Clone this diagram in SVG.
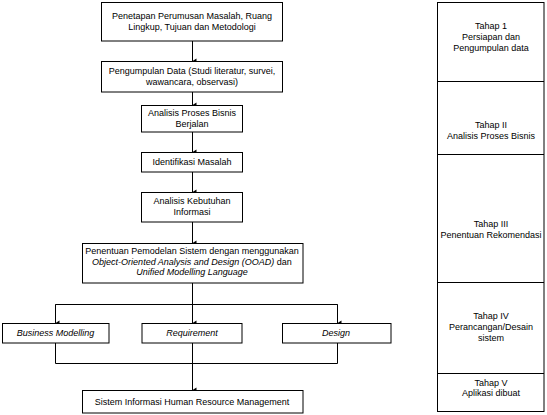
<svg xmlns="http://www.w3.org/2000/svg" width="547" height="415" viewBox="0 0 547 415">
<style>
rect{fill:#fff;stroke:#000;stroke-width:1}
text{font-family:"Liberation Sans",Arial,sans-serif;font-size:9px;fill:#000;text-anchor:middle}
.i{font-style:italic}
.c{fill:none;stroke:#000;stroke-width:1}
</style>
<defs>
<marker id="a" markerWidth="6" markerHeight="6" refX="3" refY="5" orient="auto" markerUnits="userSpaceOnUse" viewBox="0 0 6 6">
<path d="M0.5,1 L5.5,1 L3,5 Z" fill="#000"/>
</marker>
</defs>
<g id="connectors">
<path class="c" d="M192.5,41 V61" marker-end="url(#a)"/>
<path class="c" d="M192.5,92 V105" marker-end="url(#a)"/>
<path class="c" d="M192.5,132 V152" marker-end="url(#a)"/>
<path class="c" d="M192.5,172 V192" marker-end="url(#a)"/>
<path class="c" d="M192.5,222 V243" marker-end="url(#a)"/>
<path class="c" d="M192.5,283 V304.5"/>
<path class="c" d="M55.5,324 V304.5 H337.5 V323"/>
<path class="c" d="M55.5,304.5 V323" marker-end="url(#a)"/>
<path class="c" d="M192.5,304.5 V323" marker-end="url(#a)"/>
<path class="c" d="M337.5,304.5 V323" marker-end="url(#a)"/>
<path class="c" d="M55.5,343 V363.5 H337.5 V343"/>
<path class="c" d="M192.5,343 V390" marker-end="url(#a)"/>
</g>
<g id="n1"><rect x="101.5" y="2.5" width="181" height="38.5"/><text x="192" y="19">Penetapan Perumusan Masalah, Ruang</text><text x="192" y="30">Lingkup, Tujuan dan Metodologi</text></g>
<g id="n2"><rect x="101.5" y="61.5" width="181" height="30.5"/><text x="192" y="74">Pengumpulan Data (Studi literatur, survei,</text><text x="192" y="85">wawancara, observasi)</text></g>
<g id="n3"><rect x="141.5" y="105.5" width="101" height="26.5"/><text x="192" y="116">Analisis Proses Bisnis</text><text x="192" y="127">Berjalan</text></g>
<g id="n4"><rect x="141.5" y="152.5" width="101" height="19.5"/><text x="192" y="165">Identifikasi Masalah</text></g>
<g id="n5"><rect x="141.5" y="192.5" width="101" height="29.5"/><text x="192" y="204">Analisis Kebutuhan</text><text x="192" y="215">Informasi</text></g>
<g id="n6"><rect x="82.5" y="243.5" width="220.5" height="39.5"/><text x="192" y="254">Penentuan Pemodelan Sistem dengan menggunakan</text><text x="192" y="265"><tspan class="i">Object-Oriented Analysis and Design (OOAD)</tspan> dan</text><text x="192" y="275" class="i">Unified Modelling Language</text></g>
<g id="n7"><rect x="2.5" y="323.5" width="106.5" height="19.5"/><text x="55.5" y="336" class="i">Business Modelling</text></g>
<g id="n8"><rect x="142" y="323.5" width="100" height="19.5"/><text x="192" y="336" class="i">Requirement</text></g>
<g id="n9"><rect x="282.5" y="323.5" width="108.5" height="19.5"/><text x="336" y="336" class="i">Design</text></g>
<g id="n10"><rect x="82.5" y="390.5" width="220.5" height="22.5"/><text x="192" y="405">Sistem Informasi Human Resource Management</text></g>
<g id="stages">
<rect x="437.5" y="2.5" width="106.5" height="409"/>
<path class="c" d="M437.5,81.5 H544 M437.5,154.5 H544 M437.5,282.5 H544 M437.5,373.5 H544"/>
<text x="491" y="29">Tahap 1</text><text x="491" y="40">Persiapan dan</text><text x="491" y="51">Pengumpulan data</text>
<text x="491" y="128">Tahap II</text><text x="491" y="139">Analisis Proses Bisnis</text>
<text x="491" y="227">Tahap III</text><text x="491" y="238">Penentuan Rekomendasi</text>
<text x="491" y="319">Tahap IV</text><text x="491" y="330">Perancangan/Desain</text><text x="491" y="341">sistem</text>
<text x="491" y="386">Tahap V</text><text x="491" y="396">Aplikasi dibuat</text>
</g>
</svg>
